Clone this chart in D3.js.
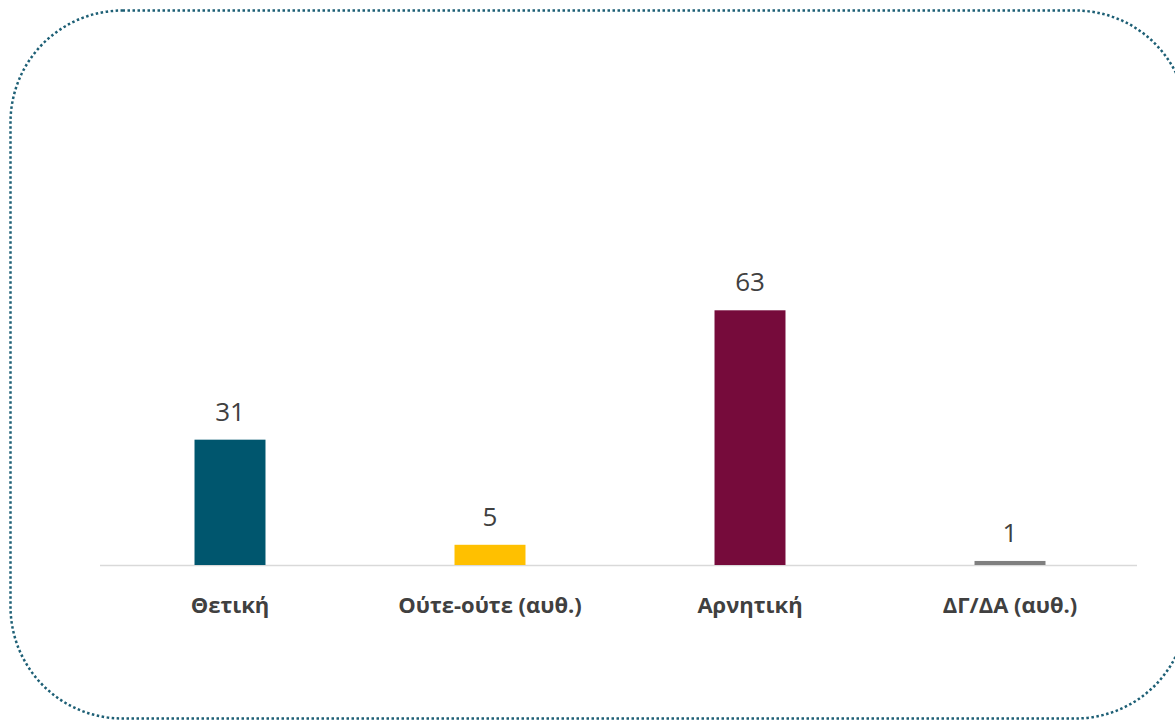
<!DOCTYPE html>
<html><head><meta charset="utf-8">
<script src="https://cdn.jsdelivr.net/npm/d3@7"></script>
<style>html,body{margin:0;padding:0;background:#fff;}svg{display:block;}</style>
</head><body>
<svg id="c" width="1175" height="721"></svg>
<script>
const categories = ["Θετική", "Ούτε-ούτε (αυθ.)", "Αρνητική", "ΔΓ/ΔΑ (αυθ.)"];
const values = [31, 5, 63, 1];
const colors = ["#00566e", "#ffc000", "#760b3b", "#7f7f7f"];

const svg = d3.select("#c");
svg.append("rect").attr("x",10.5).attr("y",10.5).attr("width",1177).attr("height",708)
  .attr("rx",112).attr("ry",112).attr("fill","none")
  .attr("stroke","#1d5f75").attr("stroke-width",2.5).attr("stroke-dasharray","2.5,2.5");

const x = d3.scaleBand().domain(categories).range([100,1140]).paddingInner(0.727).paddingOuter(0.3635);
const y = d3.scaleLinear().domain([0,70]).range([565,282]);

svg.append("line").attr("x1",100).attr("x2",1137).attr("y1",565.5).attr("y2",565.5)
  .attr("stroke","#d9d9d9").attr("stroke-width",1.5);

const g = svg.append("g");
g.selectAll("rect.bar").data(values).join("rect").attr("class","bar")
  .attr("x",(d,i)=>x(categories[i])).attr("width",x.bandwidth())
  .attr("y",d=>y(d)).attr("height",d=>y(0)-y(d)).attr("fill",(d,i)=>colors[i]);

g.selectAll("text.val").data(values).join("text").attr("class","val")
  .attr("x",(d,i)=>x(categories[i])+x.bandwidth()/2).attr("y",d=>y(d)-19)
  .attr("text-anchor","middle").attr("font-family","'Open Sans', sans-serif")
  .attr("font-size",26).attr("fill","#404040").text(d=>d);

const xAxis = d3.axisBottom(x).tickSize(0).tickPadding(0);
const ax = svg.append("g").attr("transform","translate(0,565)").call(xAxis);
ax.select(".domain").remove();
ax.selectAll("text").attr("y",48).attr("dy",0).attr("font-family","'Open Sans', sans-serif")
  .attr("font-size",22).attr("font-weight","bold").attr("fill","#404040");
</script>
</body></html>
